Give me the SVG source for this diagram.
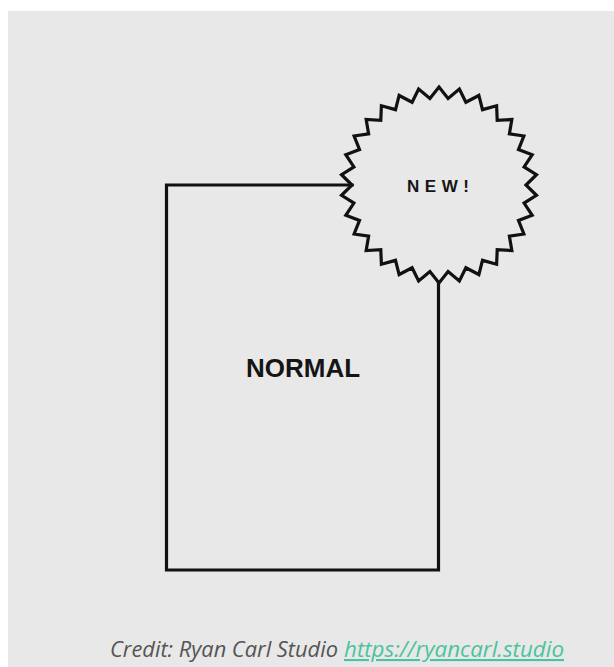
<svg xmlns="http://www.w3.org/2000/svg" width="614" height="667" viewBox="0 0 614 667">
<style>
.ln{fill:none;stroke:#111111;stroke-width:3.2;stroke-linejoin:miter;stroke-linecap:square}
.lbl{font-family:"Liberation Sans",Arial,sans-serif;font-weight:bold;fill:#151515}
.cr{font-family:"Open Sans","Noto Sans",sans-serif;font-style:italic;font-size:21px}
</style>
<rect x="0" y="0" width="614" height="667" fill="#ffffff"/>
<rect x="8" y="11" width="606" height="656" fill="#e8e8e8"/>
<g id="connectors">
<path class="ln" d="M352,185 H166.5 V570 H438.5 V283"/>
</g>
<g id="normal">
<text class="lbl" x="303" y="377" font-size="26" text-anchor="middle">NORMAL</text>
</g>
<g id="new" transform="translate(-1,0)">
<path class="ln" d="M440,87 L449.09,98.48 L460.38,89.14 L466.88,102.26 L479.86,95.47 L483.5,109.66 L497.6,105.72 L498.21,120.35 L512.83,119.43 L510.38,133.86 L524.87,136 L519.48,149.61 L533.2,154.72 L525.1,166.91 L537.46,174.76 L527,185 L537.46,195.24 L525.1,203.09 L533.2,215.28 L519.48,220.39 L524.87,234 L510.38,236.14 L512.83,250.57 L498.21,249.65 L497.6,264.28 L483.5,260.34 L479.86,274.53 L466.88,267.74 L460.38,280.86 L449.09,271.52 L440,283 L430.91,271.52 L419.62,280.86 L413.12,267.74 L400.14,274.53 L396.5,260.34 L382.4,264.28 L381.79,249.65 L367.17,250.57 L369.62,236.14 L355.13,234 L360.52,220.39 L346.8,215.28 L354.9,203.09 L342.54,195.24 L353,185 L342.54,174.76 L354.9,166.91 L346.8,154.72 L360.52,149.61 L355.13,136 L369.62,133.86 L367.17,119.43 L381.79,120.35 L382.4,105.72 L396.5,109.66 L400.14,95.47 L413.12,102.26 L419.62,89.14 L430.91,98.48 Z"/>
<text class="lbl" x="408" y="192" font-size="17" textLength="62" lengthAdjust="spacing">NEW!</text>
</g>
<g id="credit">
<text class="cr" x="110" y="657" fill="#555555" textLength="228" lengthAdjust="spacingAndGlyphs">Credit: Ryan Carl Studio</text>
<text class="cr" x="344" y="657" fill="#4cc39c" text-decoration="underline" textLength="220" lengthAdjust="spacingAndGlyphs">https://ryancarl.studio</text>
</g>
</svg>
